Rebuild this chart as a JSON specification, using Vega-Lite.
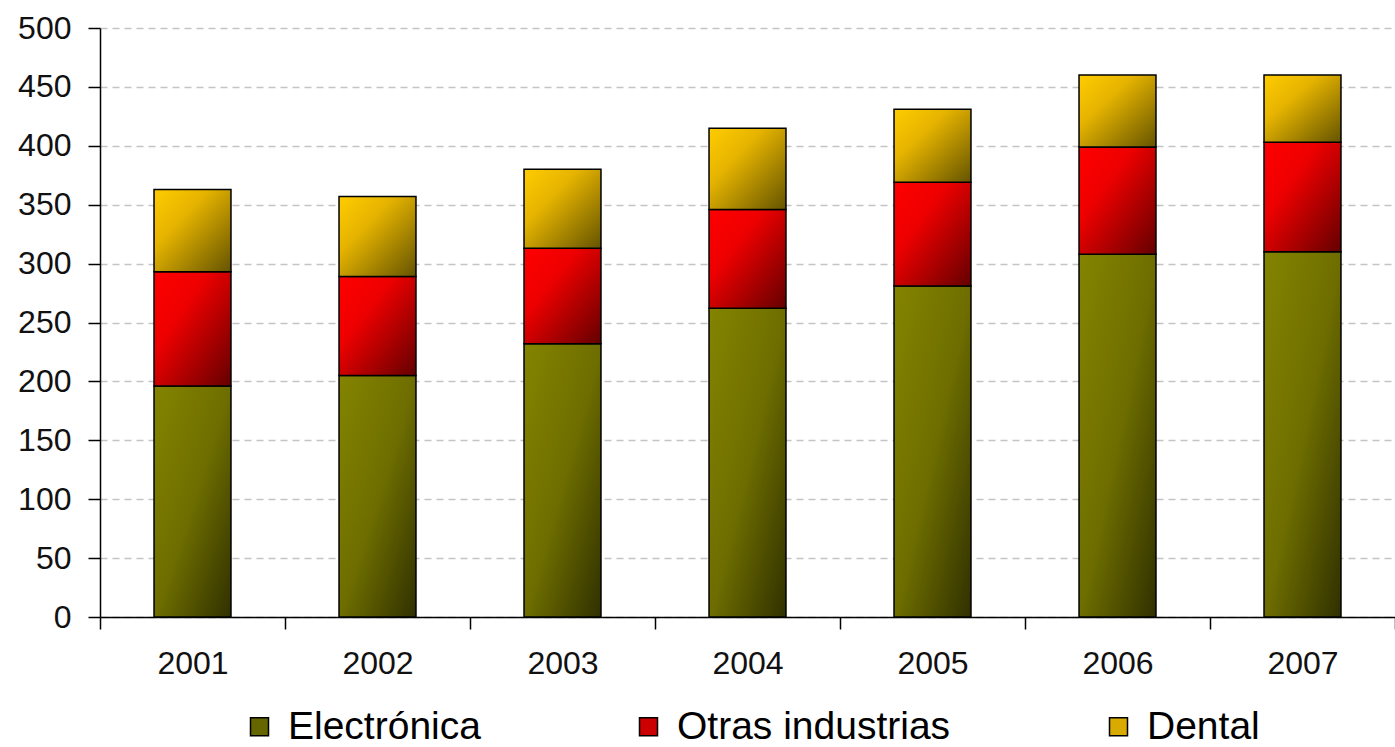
{
  "$schema": "https://vega.github.io/schema/vega-lite/v6.json",
  "width": 1295,
  "height": 589,
  "autosize": "none",
  "padding": {"left": 100, "top": 28, "right": 0, "bottom": 130},
  "background": "white",
  "config": {"view": {"stroke": null}, "font": "Liberation Sans"},
  "data": {"values": [
    {"anio": "2001", "serie": "Electrónica", "orden": 1, "valor": 196},
    {"anio": "2001", "serie": "Otras industrias", "orden": 2, "valor": 97},
    {"anio": "2001", "serie": "Dental", "orden": 3, "valor": 70},
    {"anio": "2002", "serie": "Electrónica", "orden": 1, "valor": 205},
    {"anio": "2002", "serie": "Otras industrias", "orden": 2, "valor": 84},
    {"anio": "2002", "serie": "Dental", "orden": 3, "valor": 68},
    {"anio": "2003", "serie": "Electrónica", "orden": 1, "valor": 232},
    {"anio": "2003", "serie": "Otras industrias", "orden": 2, "valor": 81},
    {"anio": "2003", "serie": "Dental", "orden": 3, "valor": 67},
    {"anio": "2004", "serie": "Electrónica", "orden": 1, "valor": 262},
    {"anio": "2004", "serie": "Otras industrias", "orden": 2, "valor": 84},
    {"anio": "2004", "serie": "Dental", "orden": 3, "valor": 69},
    {"anio": "2005", "serie": "Electrónica", "orden": 1, "valor": 281},
    {"anio": "2005", "serie": "Otras industrias", "orden": 2, "valor": 88},
    {"anio": "2005", "serie": "Dental", "orden": 3, "valor": 62},
    {"anio": "2006", "serie": "Electrónica", "orden": 1, "valor": 308},
    {"anio": "2006", "serie": "Otras industrias", "orden": 2, "valor": 91},
    {"anio": "2006", "serie": "Dental", "orden": 3, "valor": 61},
    {"anio": "2007", "serie": "Electrónica", "orden": 1, "valor": 310},
    {"anio": "2007", "serie": "Otras industrias", "orden": 2, "valor": 93},
    {"anio": "2007", "serie": "Dental", "orden": 3, "valor": 57}
  ]},
  "transform": [
    {"stack": "valor", "groupby": ["anio"], "sort": [{"field": "orden", "order": "ascending"}], "as": ["v0", "v1"]}
  ],
  "encoding": {
    "x": {
      "field": "anio", "type": "ordinal",
      "scale": {"paddingInner": 0, "paddingOuter": 0},
      "axis": {
        "title": null, "labelAngle": 0, "tickBand": "extent",
        "labelFontSize": 32, "labelColor": "#111", "labelPadding": 19,
        "tickSize": 12, "tickColor": "#000", "tickWidth": 1.5,
        "domainColor": "#000", "domainWidth": 1.5
      }
    },
    "y": {
      "field": "v1", "type": "quantitative",
      "scale": {"domain": [0, 500], "nice": false},
      "axis": {
        "title": null, "values": [0, 50, 100, 150, 200, 250, 300, 350, 400, 450, 500],
        "labelFontSize": 32, "labelColor": "#111", "labelPadding": 17,
        "tickSize": 12, "tickColor": "#000", "tickWidth": 1.5,
        "domainColor": "#000", "domainWidth": 1.5,
        "grid": true, "gridColor": "#c4c4c4", "gridDash": [7, 5], "gridWidth": 1.5
      }
    },
    "y2": {"field": "v0"}
  },
  "layer": [
    {
      "mark": {"type": "bar", "width": {"band": 0.416}},
      "encoding": {
        "fill": {
          "field": "serie", "type": "nominal",
          "scale": {"domain": ["Electrónica", "Otras industrias", "Dental"], "range": ["#666600", "#cc0000", "#d9aa00"]},
          "legend": {
            "title": null, "orient": "none", "direction": "horizontal",
            "legendX": 140, "legendY": 679,
            "symbolType": "square", "symbolSize": 324,
            "symbolStrokeColor": "#000", "symbolStrokeWidth": 1.5,
            "labelFontSize": 39, "labelColor": "#000", "labelOffset": 9, "labelLimit": 0,
            "columnPadding": 148, "padding": 0
          }
        }
      }
    },
    {
      "mark": {"type": "bar", "width": {"band": 0.416}, "stroke": "#000", "strokeWidth": 1.5},
      "encoding": {
        "fill": {
          "condition": [
            {"test": "datum.serie === 'Electrónica'", "value": {"gradient": "linear", "x1": 0, "y1": 0, "x2": 1, "y2": 1, "stops": [{"offset": 0, "color": "#848400"}, {"offset": 0.5, "color": "#6e6e00"}, {"offset": 1, "color": "#303000"}]}},
            {"test": "datum.serie === 'Otras industrias'", "value": {"gradient": "linear", "x1": 0, "y1": 0, "x2": 1, "y2": 1, "stops": [{"offset": 0, "color": "#ff0000"}, {"offset": 0.35, "color": "#ee0000"}, {"offset": 1, "color": "#640000"}]}}
          ],
          "value": {"gradient": "linear", "x1": 0, "y1": 0, "x2": 1, "y2": 1, "stops": [{"offset": 0, "color": "#ffcc00"}, {"offset": 0.35, "color": "#e6b400"}, {"offset": 1, "color": "#655400"}]}
        }
      }
    }
  ]
}
